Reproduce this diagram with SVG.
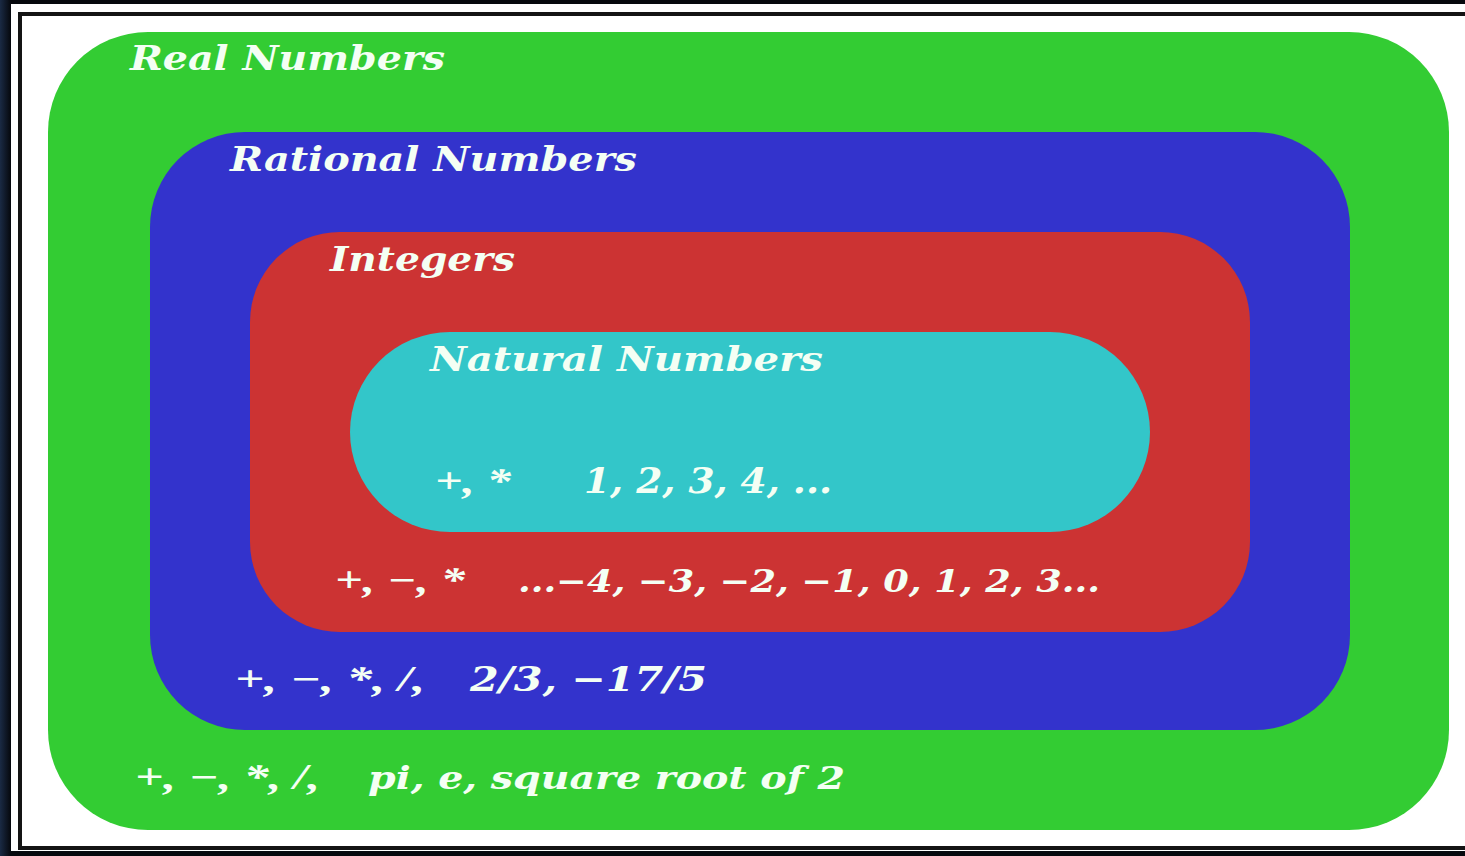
<svg xmlns="http://www.w3.org/2000/svg" width="1465" height="856" viewBox="0 0 1465 856">
  <defs>
    <linearGradient id="edge" x1="0" y1="0" x2="1" y2="0">
      <stop offset="0" stop-color="#1a2a44"/>
      <stop offset="1" stop-color="#05070c"/>
    </linearGradient>
    <style>
      .t{font-family:"DejaVu Serif","Liberation Serif",serif;font-weight:bold;font-style:italic;fill:#f4fff4}
      .op{font-family:"Liberation Serif","DejaVu Serif",serif;font-style:italic;font-weight:bold;fill:#f4fff4}
      .num{font-family:"DejaVu Serif","Liberation Serif",serif;font-style:italic;font-weight:bold;fill:#f4fff4}
    </style>
  </defs>
  <rect x="0" y="0" width="1465" height="856" fill="#06080d"/>
  <rect x="0" y="0" width="11" height="856" fill="url(#edge)"/>
  <rect x="11" y="4" width="1460" height="847" fill="#ffffff"/>
  <rect x="20" y="14" width="1450" height="834" fill="none" stroke="#141414" stroke-width="4"/>

  <g id="real">
    <rect x="48" y="32" width="1401" height="798" rx="100" ry="100" fill="#33cc33"/>
    <text class="t" x="130" y="70" font-size="33" textLength="315" lengthAdjust="spacingAndGlyphs">Real Numbers</text>
    <text class="op" x="135" y="789" font-size="36" textLength="185" lengthAdjust="spacingAndGlyphs">+, −, *, /,</text>
    <text class="num" x="368" y="789" font-size="31" textLength="477" lengthAdjust="spacingAndGlyphs">pi, e, square root of 2</text>
  </g>
  <g id="rational">
    <rect x="150" y="132" width="1200" height="598" rx="95" ry="95" fill="#3333cc"/>
    <text class="t" x="230" y="171" font-size="33" textLength="407" lengthAdjust="spacingAndGlyphs">Rational Numbers</text>
    <text class="op" x="235" y="691" font-size="36" textLength="190" lengthAdjust="spacingAndGlyphs">+, −, *, /,</text>
    <text class="num" x="470" y="691" font-size="34" textLength="237" lengthAdjust="spacingAndGlyphs">2/3, −17/5</text>
  </g>
  <g id="integers">
    <rect x="250" y="232" width="1000" height="400" rx="90" ry="90" fill="#cc3333"/>
    <text class="t" x="330" y="271" font-size="33" textLength="185" lengthAdjust="spacingAndGlyphs">Integers</text>
    <text class="op" x="335" y="592" font-size="36" textLength="130" lengthAdjust="spacingAndGlyphs">+, −, *</text>
    <text class="num" x="518" y="592" font-size="31" textLength="582" lengthAdjust="spacingAndGlyphs">...−4, −3, −2, −1, 0, 1, 2, 3...</text>
  </g>
  <g id="natural">
    <rect x="350" y="332" width="800" height="200" rx="100" ry="100" fill="#33c6c9"/>
    <text class="t" x="430" y="371" font-size="33" textLength="393" lengthAdjust="spacingAndGlyphs">Natural Numbers</text>
    <text class="op" x="435" y="493" font-size="36" textLength="76" lengthAdjust="spacingAndGlyphs">+, *</text>
    <text class="num" x="584" y="493" font-size="36" textLength="248" lengthAdjust="spacingAndGlyphs">1, 2, 3, 4, ...</text>
  </g>
  <g id="connectors"/>
</svg>
